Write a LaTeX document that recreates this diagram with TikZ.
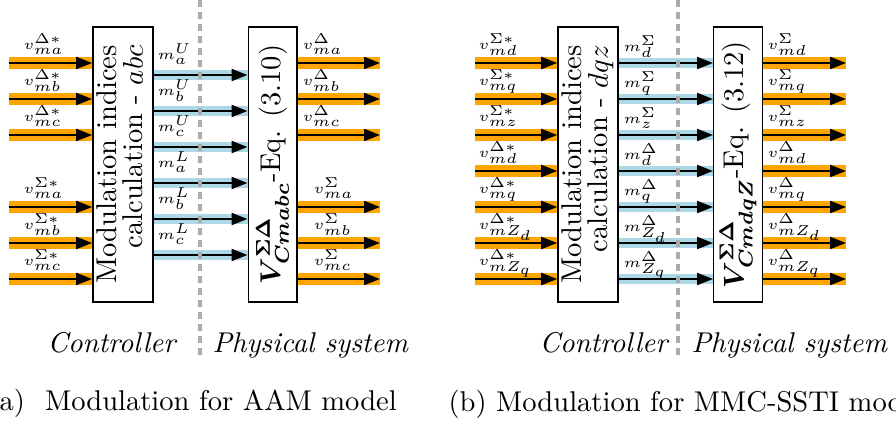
\documentclass[tikz,border=0pt]{standalone}
\usepackage{amsmath}
\usepackage{tikz}
\usetikzlibrary{positioning,arrows.meta}
\definecolor{sigorange}{HTML}{FFA500}
\definecolor{sigblue}{HTML}{ADD8E6}
\definecolor{sepgray}{HTML}{ABABAB}

\begin{document}
\begin{tikzpicture}[
  x=0.35pt, y=-0.35pt,
  blockbox/.style={draw, line width=0.5pt, fill=white, minimum width=21pt,
              minimum height=96.25pt, inner sep=0pt},
  eqbox/.style={blockbox, minimum width=17pt},
  arrowline/.style={-{Triangle[length=5.6pt, width=4.2pt]}, line width=0.75pt, draw=black},
  sigline/.style={arrowline, preaction={draw=sigorange, line width=3.9pt, -}},
  modline/.style={arrowline, preaction={draw=sigblue, line width=3.7pt, -}},
  lab/.style={anchor=base west, inner sep=0pt, font=\tiny},
  splitline/.style={draw=sepgray, line width=1.2pt, dash pattern=on 2.4pt off 1.8pt},
  sidelabel/.style={inner sep=0pt, font=\itshape},
  captext/.style={anchor=base west, inner sep=0pt}
]
\useasboundingbox (0,0) rectangle (896,423);
\clip (0,0) rectangle (896,423);

% (a) AAM model
\node[blockbox] (modA) at (123,164.5) {\rotatebox{90}{\begin{tabular}{@{}r@{}}Modulation indices\\[-2.9pt]calculation - $abc$\end{tabular}}};
\node[eqbox] (eqA) at (272.5,164.5) {\rotatebox{90}{$\boldsymbol{V^{\Sigma\Delta}_{Cmabc}}$-Eq. (3.10)}};
\foreach \y/\g/\s in {63/\Delta/ma, 99/\Delta/mb, 135/\Delta/mc, 207/\Sigma/ma, 243/\Sigma/mb, 279/\Sigma/mc} {
  \coordinate (inA\y) at (9,\y);
  \draw[sigline] (inA\y) -- (inA\y -| modA.west);
  \node[lab] (vinA\y) at (23,\y-14) {$v^{\g*}_{\s}$};
}
\foreach \y/\g/\s in {75/U/a, 111/U/b, 147/U/c, 183/L/a, 219/L/b, 255/L/c} {
  \coordinate (midA\y) at (200,\y);
  \draw[modline] (modA.east |- midA\y) -- (eqA.west |- midA\y);
  \node[lab] (mA\y) at (157,\y-16) {$m^{\g}_{\s}$};
}
\foreach \y/\g/\s/\x in {63/\Delta/ma/302, 99/\Delta/mb/302, 135/\Delta/mc/302, 207/\Sigma/ma/313, 243/\Sigma/mb/313, 279/\Sigma/mc/313} {
  \coordinate (outA\y) at (380,\y);
  \draw[sigline] (eqA.east |- outA\y) -- (outA\y);
  \node[lab] (voutA\y) at (\x,\y-14) {$v^{\g}_{\s}$};
}
\coordinate (sepAtop) at (200,0);
\coordinate (sepAbot) at (200,356);
\draw[splitline] (sepAtop) -- (sepAbot);
\node[sidelabel, anchor=base east] (ctrlA) at (176,352) {Controller};
\node[sidelabel, anchor=base west] (physA) at (212,352) {Physical system};
\node[captext] (capA) at (-12,410) {(a)\hspace{7pt}Modulation for AAM model};

% (b) MMC-SSTI model
\node[blockbox] (modB) at (588,164.5) {\rotatebox{90}{\begin{tabular}{@{}r@{}}Modulation indices\\[-2.9pt]calculation - $dqz$\end{tabular}}};
\node[eqbox] (eqB) at (738,164.5) {\rotatebox{90}{$\boldsymbol{V^{\Sigma\Delta}_{CmdqZ}}$-Eq. (3.12)}};
\foreach \y/\g/\s in {63/\Sigma/md, 99/\Sigma/mq, 135/\Sigma/mz, 171/\Delta/md, 207/\Delta/mq, 243/\Delta/mZ_d, 279/\Delta/mZ_q} {
  \coordinate (inB\y) at (475,\y);
  \draw[sigline] (inB\y) -- (inB\y -| modB.west);
  \node[lab] (vinB\y) at (478,\y-14) {$v^{\g*}_{\s}$};
}
\foreach \y/\g/\s in {63/\Sigma/d, 99/\Sigma/q, 135/\Sigma/z, 171/\Delta/d, 207/\Delta/q, 243/\Delta/Z_d, 279/\Delta/Z_q} {
  \coordinate (midB\y) at (678,\y);
  \draw[modline] (modB.east |- midB\y) -- (eqB.west |- midB\y);
  \node[lab] (mB\y) at (623,\y-12) {$m^{\g}_{\s}$};
}
\foreach \y/\g/\s in {63/\Sigma/md, 99/\Sigma/mq, 135/\Sigma/mz, 171/\Delta/md, 207/\Delta/mq, 243/\Delta/mZ_d, 279/\Delta/mZ_q} {
  \coordinate (outB\y) at (846,\y);
  \draw[sigline] (eqB.east |- outB\y) -- (outB\y);
  \node[lab] (voutB\y) at (767,\y-14) {$v^{\g}_{\s}$};
}
\coordinate (sepBtop) at (678,0);
\coordinate (sepBbot) at (678,356);
\draw[splitline] (sepBtop) -- (sepBbot);
\node[sidelabel, anchor=base east] (ctrlB) at (668,352) {Controller};
\node[sidelabel, anchor=base west] (physB) at (691,352) {Physical system};
\node[captext] (capB) at (448,411) {(b) Modulation for MMC-SSTI model};
\end{tikzpicture}
\end{document}
